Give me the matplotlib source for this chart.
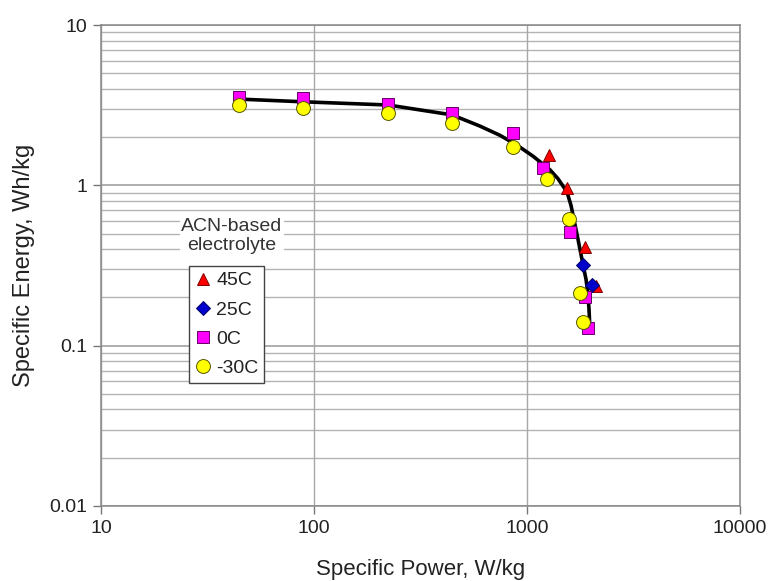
"""
Ragone plot: ACN-based electrolyte capacitor at four temperatures.
"""

import matplotlib
matplotlib.use("Agg")
import matplotlib.pyplot as plt

plt.rcParams["font.family"] = ["Liberation Sans", "DejaVu Sans"]

# ── data ────────────────────────────────────────────────────────────────────
fit_power  = [44.5, 88.8, 223, 445, 602, 747, 898, 1067, 1282, 1398,
              1540, 1609, 1662, 1736, 1793, 1832, 1892, 1933, 1954, 1976]
fit_energy = [3.45, 3.32, 3.17, 2.75, 2.34, 2.05, 1.78, 1.52, 1.25, 1.10,
              0.91, 0.75, 0.61, 0.46, 0.37, 0.32, 0.26, 0.21, 0.17, 0.125]

p_45c = [1268, 1542, 1880, 2100]
e_45c = [1.55, 0.96, 0.41, 0.235]

p_25c = [1830, 2018]
e_25c = [0.318, 0.239]

p_0c = [44.5, 88.7, 222, 444, 859, 1190, 1590, 1870, 1936]
e_0c = [3.55, 3.49, 3.21, 2.81, 2.11, 1.28, 0.51, 0.20, 0.128]

p_m30c = [44.5, 88.7, 222, 444, 859, 1245, 1574, 1765, 1830]
e_m30c = [3.17, 3.05, 2.81, 2.46, 1.74, 1.10, 0.617, 0.213, 0.140]

x_ticks  = [10, 100, 1000, 10000]
x_labels = ["10", "100", "1000", "10000"]
y_ticks  = [0.01, 0.1, 1, 10]
y_labels = ["0.01", "0.1", "1", "10"]


# ---------------------------------------------------------------------------
# Plot
# ---------------------------------------------------------------------------

fig = plt.figure(figsize=(7.72, 5.81), dpi=100)
ax = fig.add_axes([101 / 772, 1 - 506 / 581, 639 / 772, 481 / 581])
ax.set_xscale("log")
ax.set_yscale("log")
ax.set_xlim(10, 10000)
ax.set_ylim(0.01, 10)

# grid: every 1..9 step horizontally, decades only vertically
for dec in [0.01, 0.1, 1]:
    for k in range(2, 10):
        ax.axhline(dec * k, color="#b4b4b4", lw=1.0, zorder=0)
for y in y_ticks:
    ax.axhline(y, color="#999999", lw=1.1, zorder=0)
for x in x_ticks:
    ax.axvline(x, color="#a8a8a8", lw=1.0, zorder=0)

ax.plot(fit_power, fit_energy, color="black", lw=2.6, zorder=2,
        solid_joinstyle="round")

mk = dict(ls="none", markeredgewidth=0.7, zorder=3)
ax.plot(p_45c, e_45c, marker="^", ms=9, color="#ff0000", mec="#800000",
        label="45C", **mk)
ax.plot(p_25c, e_25c, marker="D", ms=7, color="#0000cc", mec="#000066",
        label="25C", **mk)
ax.plot(p_0c, e_0c, marker="s", ms=9, color="#ff00ff", mec="#660066",
        label="0C", **mk)
ax.plot(p_m30c, e_m30c, marker="o", ms=10, color="#ffff00", mec="#555500",
        label="-30C", **mk)

ax.set_xticks(x_ticks)
ax.set_xticklabels(x_labels)
ax.set_yticks(y_ticks)
ax.set_yticklabels(y_labels)
ax.minorticks_off()
ax.tick_params(axis="both", which="major", direction="out", length=6,
               width=1, color="#777777", labelsize=14, pad=4,
               labelcolor="#222222")
for sp in ax.spines.values():
    sp.set_color("#888888")
    sp.set_linewidth(1.1)

ax.set_xlabel("Specific Power, W/kg", fontsize=16, labelpad=16,
              color="#222222")
ax.set_ylabel("Specific Energy, Wh/kg", fontsize=17, labelpad=10,
              color="#222222")

# annotation above the legend box
fig.text(232 / 772, 1 - 236 / 581, "ACN-based\nelectrolyte", ha="center",
         va="center", fontsize=14, color="#333333", linespacing=1.15,
         bbox=dict(facecolor="white", edgecolor="none", pad=1))

leg = ax.legend(loc="upper left", bbox_to_anchor=(189 / 772, 1 - 266 / 581),
                bbox_transform=fig.transFigure, borderaxespad=0,
                fancybox=False, framealpha=1, edgecolor="#444444",
                fontsize=14, handlelength=0.8, handletextpad=0.3,
                labelspacing=0.6, borderpad=0.3)
leg.get_frame().set_linewidth(1.0)
for t in leg.get_texts():
    t.set_color("#222222")

fig.savefig("out.png", dpi=100)
